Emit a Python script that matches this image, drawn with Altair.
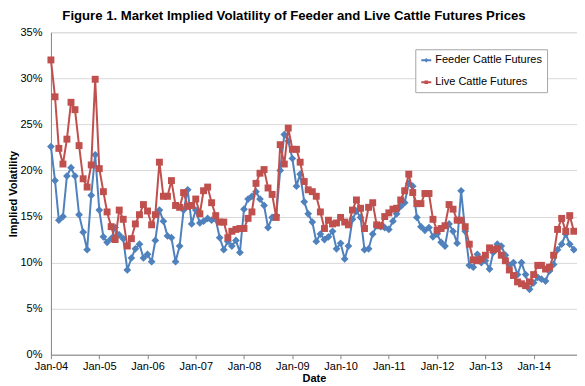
import altair as alt
import pandas as pd

# Monthly implied volatility (%), Jan-2004 onward
feeder = [22.6, 18.9, 14.6, 15.0, 19.4, 20.3, 19.4, 15.2, 13.3, 11.4,
          17.3, 21.7, 15.7, 12.8, 12.2, 12.6, 13.8, 13.0, 12.6, 9.2,
          10.5, 11.5, 12.0, 10.5, 10.9, 10.1, 12.4, 15.7, 14.5, 12.9,
          12.7, 10.1, 11.8, 15.7, 17.9, 14.2, 15.7, 14.3, 14.5, 14.8,
          14.6, 14.7, 12.7, 11.4, 12.3, 11.8, 12.4, 11.1, 15.8, 16.9,
          17.2, 17.7, 16.9, 16.2, 13.8, 14.9, 15.1, 20.0, 23.9, 23.2,
          21.3, 18.3, 19.6, 16.6, 15.3, 14.4, 12.3, 13.1, 12.5, 12.8,
          13.4, 11.5, 12.1, 10.4, 11.8, 14.7, 15.6, 14.9, 11.4, 11.5,
          13.1, 14.0, 13.9, 13.8, 13.6, 14.5, 15.3, 16.1, 16.5, 18.6,
          18.3, 14.9, 13.9, 13.5, 13.8, 12.8, 13.1, 12.2, 11.8, 14.2,
          13.4, 12.1, 17.8, 13.4, 9.7, 9.5, 10.9, 10.0, 10.2, 9.3,
          11.1, 12.0, 11.8, 10.8, 9.7, 10.0, 8.7, 10.0, 8.7, 7.1,
          7.8, 8.4, 8.2, 8.0, 9.1, 9.8, 11.4, 12.0, 13.1, 12.0,
          11.4]
live = [32.0, 28.0, 22.4, 20.7, 23.4, 27.4, 26.6, 22.7, 19.1, 18.2,
        20.6, 29.9, 20.2, 17.7, 15.5, 13.9, 12.5, 15.7, 14.7, 11.8,
        12.6, 14.2, 15.2, 16.3, 15.6, 14.1, 15.2, 20.9, 17.2, 17.2,
        18.9, 16.2, 16.0, 17.6, 16.1, 16.2, 16.9, 15.3, 17.8, 18.2,
        16.5, 15.1, 14.4, 14.4, 12.7, 13.4, 13.6, 13.7, 13.7, 14.8,
        15.5, 18.6, 19.7, 20.1, 18.1, 17.4, 14.9, 22.8, 20.7, 24.6,
        22.3, 22.3, 20.9, 18.8, 17.9, 17.7, 17.2, 15.5, 13.7, 14.6,
        14.2, 14.3, 14.9, 14.4, 14.1, 15.7, 16.8, 15.9, 13.7, 16.0,
        16.5, 14.1, 14.0, 15.0, 15.4, 15.8, 15.9, 16.8, 17.8, 19.6,
        17.6, 16.4, 16.4, 17.5, 17.5, 14.7, 13.5, 13.7, 14.0, 16.3,
        15.8, 14.6, 14.6, 13.9, 12.0, 10.3, 10.2, 10.4, 10.8, 11.6,
        11.4, 11.5, 10.8, 10.2, 9.2, 8.6, 7.9, 7.7, 7.5, 7.9,
        8.7, 9.7, 9.7, 9.3, 9.5, 10.8, 13.6, 14.8, 13.4, 15.1,
        13.4]
series_names = ["Feeder Cattle Futures", "Live Cattle Futures"]
y_ticks = [0, 0.05, 0.10, 0.15, 0.20, 0.25, 0.30, 0.35]
label_years = list(range(2004, 2015))

n = len(live)
months = list(pd.date_range("2004-01-01", periods=n, freq="MS"))
df = pd.DataFrame({
    "date": months + months,
    "series": [series_names[0]] * n + [series_names[1]] * n,
    "vol": [v / 100 for v in feeder + live],
})

BLUE = "#4F81BD"
RED = "#C0504D"
FONT = "Liberation Sans"

x_enc = alt.X(
    "date:T",
    title="Date",
    scale=alt.Scale(domain=[alt.DateTime(year=2004, month=1, date=1),
                            alt.DateTime(year=2014, month=11, date=25)]),
    axis=alt.Axis(
        values=[alt.DateTime(year=yy, month=1, date=1) for yy in label_years],
        format="%b-%y", grid=False, ticks=True, tickSize=4,
        tickColor="#868686", domainColor="#868686",
        labelFontSize=11, labelFont=FONT, labelColor="#000000",
        labelPadding=2, labelFlush=False, labelOverlap=False,
        titleFontSize=11, titleFont=FONT,
        titleFontWeight="bold", titleColor="#000000", titlePadding=1,
    ),
)
y_enc = alt.Y(
    "vol:Q",
    title="Implied Volatility",
    scale=alt.Scale(domain=[0, 0.35], nice=False),
    axis=alt.Axis(
        values=y_ticks, format=".0%", grid=True, gridColor="#D9D9D9",
        ticks=False, domainColor="#868686", labelFontSize=11,
        labelFont=FONT, labelColor="#000000", labelPadding=9,
        titleFontSize=11, titleFont=FONT, titleFontWeight="bold",
        titleColor="#000000", titlePadding=1,
    ),
)

base = alt.Chart(df)
feeder_df = base.transform_filter(alt.datum.series == series_names[0])
live_df = base.transform_filter(alt.datum.series == series_names[1])

blue_line = feeder_df.mark_line(color=BLUE, strokeWidth=2).encode(x=x_enc, y=y_enc)
blue_pts = feeder_df.mark_point(shape="diamond", filled=True, color=BLUE,
                                size=60, opacity=1).encode(x=x_enc, y=y_enc)
red_line = live_df.mark_line(color=RED, strokeWidth=2).encode(x=x_enc, y=y_enc)
red_pts = live_df.mark_point(shape="square", filled=True, color=RED,
                             size=48, opacity=1).encode(x=x_enc, y=y_enc)

leg = alt.Legend(
    title=None, orient="none", legendX=365, legendY=17,
    fillColor="#FFFFFF", strokeColor="#A6A6A6", padding=5, rowPadding=11,
    labelFontSize=11, labelFont=FONT, labelColor="#000000", labelOffset=3,
    symbolStrokeWidth=2,
)
shape_paths = [
    "M-1,0H1M0,-0.18L0.18,0L0,0.18L-0.18,0Z",
    "M-1,0H1M-0.16,-0.16H0.16V0.16H-0.16Z",
]
legend_layer = base.transform_filter("false").mark_point(
    size=324, opacity=1, strokeWidth=2
).encode(
    x=x_enc, y=y_enc,
    shape=alt.Shape("series:N", scale=alt.Scale(domain=series_names, range=shape_paths), legend=leg),
    fill=alt.Fill("series:N", scale=alt.Scale(domain=series_names, range=[BLUE, RED]), legend=leg),
    stroke=alt.Stroke("series:N", scale=alt.Scale(domain=series_names, range=[BLUE, RED]), legend=leg),
)

chart = alt.layer(blue_line, blue_pts, red_line, red_pts, legend_layer).properties(
    width=527,
    height=323,
    autosize=alt.AutoSizeParams(type="none"),
    padding={"left": 43, "top": 24, "right": 0, "bottom": 30},
    title=alt.TitleParams(
        "Figure 1. Market Implied Volatility of Feeder and Live Cattle Futures Prices",
        fontSize=13.2, fontWeight="bold", font=FONT, color="#000000",
        anchor="middle", frame="group", offset=3, dx=-20,
    ),
).configure_view(stroke=None).configure(background="#FFFFFF")

chart.save("out.html", embed_options={"renderer": "svg", "actions": False})
